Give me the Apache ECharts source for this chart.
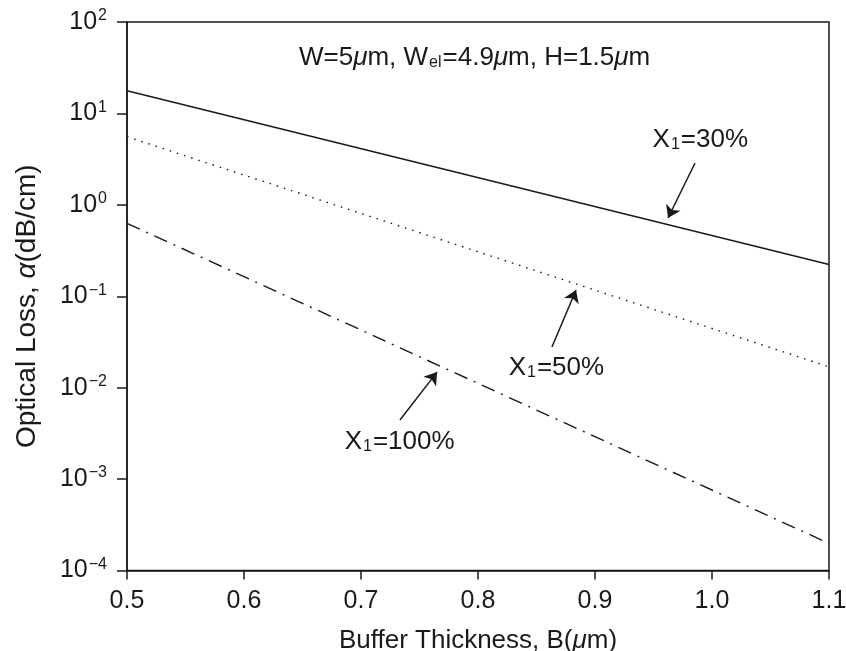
<!DOCTYPE html>
<html>
<head>
<meta charset="utf-8">
<script src="https://cdn.jsdelivr.net/npm/echarts@6/dist/echarts.min.js"></script>
<style>
html,body{margin:0;padding:0;background:#fff;}
#chart{width:846px;height:651px;}
</style>
</head>
<body>
<div id="chart"></div>
<script>
// ---- data ----
const bufferThickness = [0.5, 1.1];
const lossX30 = [17.7, 0.223];
const lossX50 = [5.56, 0.0169];
const lossX100 = [0.627, 0.000198];
const xTicks = [0.5, 0.6, 0.7, 0.8, 0.9, 1.0, 1.1];
const yTickExponents = [2, 1, 0, -1, -2, -3, -4];
const labelNames = ['X{sub|1}=30%', 'X{sub|1}=50%', 'X{sub|1}=100%'];
// annotation anchors in data space
const labelAnchors = [[0.99, 5.12], [0.867, 0.0164], [0.733, 0.00254]];
const arrowStarts = [[0.9855, 2.87], [0.8632, 0.0278], [0.7333, 0.00442]];
const arrowTips = [[0.9624, 0.718], [0.8838, 0.117], [0.765, 0.0148]];

const FONT = 'Liberation Sans, Arial, Helvetica, sans-serif';
const INK = '#1a1a1a';
const FS = 25;

function pairs(xs, ys) { return xs.map((x, i) => [x, ys[i]]); }

function richFor(fs) {
  return {
    n: { fontSize: fs, fontFamily: FONT, color: INK, lineHeight: 30 },
    sub: { fontSize: 16, fontFamily: FONT, color: INK, padding: [10, 1, 0, 1] },
    sup: { fontSize: 16, fontFamily: FONT, color: INK, padding: [0, 0, 12, 1] },
    it: { fontSize: fs, fontFamily: FONT, color: INK, fontStyle: 'italic' }
  };
}

const chart = echarts.init(document.getElementById('chart'), null, { renderer: 'canvas' });

const lineCommon = { type: 'line', symbol: 'none', silent: true, z: 3 };

const option = {
  backgroundColor: '#fff',
  animation: false,
  title: {
    text: 'W=5{it|μ}m, W{sub|el}=4.9{it|μ}m, H=1.5{it|μ}m',
    left: 294, top: 40,
    textStyle: { fontSize: 26, fontWeight: 'normal', fontFamily: FONT, color: INK, rich: richFor(26) }
  },
  grid: {
    left: 127, right: 17, top: 22, bottom: 80.5,
    outerBoundsMode: 'none', containLabel: false,
    show: true, borderColor: INK, borderWidth: 1.5, backgroundColor: 'transparent'
  },
  xAxis: {
    type: 'value', min: 0.5, max: 1.1, interval: 0.1,
    name: 'Buffer Thickness, B({it|μ}m)',
    nameLocation: 'middle', nameGap: 57,
    nameTextStyle: { fontSize: 26, fontFamily: FONT, color: INK, rich: richFor(26) },
    axisLine: { show: true, onZero: false, lineStyle: { color: INK, width: 1.5 } },
    axisTick: { show: true, inside: false, length: 9, lineStyle: { color: INK, width: 1.5 } },
    axisLabel: { fontSize: FS, fontFamily: FONT, color: INK, margin: 18,
      formatter: v => { const i = xTicks.findIndex(t => Math.abs(t - v) < 1e-6); return i >= 0 ? xTicks[i].toFixed(1) : ''; } },
    splitLine: { show: false }
  },
  yAxis: {
    type: 'log', logBase: 10, min: 1e-4, max: 1e2,
    name: 'Optical Loss, {it|α}(dB/cm)',
    nameLocation: 'middle', nameGap: 86, nameRotate: 90,
    nameTextStyle: { fontSize: 28, fontFamily: FONT, color: INK, rich: richFor(28), padding: [0, 20, 0, 0] },
    axisLine: { show: true, lineStyle: { color: INK, width: 1.5 } },
    axisTick: { show: true, inside: false, length: 10, lineStyle: { color: INK, width: 1.5 } },
    minorTick: { show: false },
    axisLabel: {
      fontSize: FS, fontFamily: FONT, color: INK, margin: 20,
      formatter: v => {
        const e = Math.round(Math.log10(v));
        if (!yTickExponents.includes(e)) return '';
        const s = e < 0 ? '\u2212' + (-e) : String(e);
        return '{n|10}{sup|' + s + '}';
      },
      rich: richFor(FS)
    },
    splitLine: { show: false }
  },
  series: [
    Object.assign({}, lineCommon, {
      name: 'X1=30%', data: pairs(bufferThickness, lossX30),
      lineStyle: { color: INK, width: 1.6, type: 'solid' }
    }),
    Object.assign({}, lineCommon, {
      name: 'X1=50%', data: pairs(bufferThickness, lossX50),
      lineStyle: { color: INK, width: 1.4, type: [1.5, 6] }
    }),
    Object.assign({}, lineCommon, {
      name: 'X1=100%', data: pairs(bufferThickness, lossX100),
      lineStyle: { color: INK, width: 1.4, type: [14, 7, 2, 7] },
      markLine: {
        silent: true, symbol: ['none', 'arrow'], symbolSize: 12,
        itemStyle: { color: INK },
        lineStyle: { color: INK, width: 1.5, type: 'solid' },
        label: { show: false },
        data: arrowStarts.map((s, i) => [{ coord: s }, { coord: arrowTips[i] }])
      }
    }),
    {
      type: 'scatter', silent: true, symbolSize: 0, z: 5,
      itemStyle: { opacity: 1, color: INK },
      data: labelAnchors.map((p, i) => ({ value: p })),
      label: {
        show: true, position: 'inside',
        formatter: p => labelNames[p.dataIndex],
        rich: richFor(26), fontSize: 26, fontFamily: FONT, color: INK
      }
    }
  ]
};
chart.setOption(option);
</script>
</body>
</html>
